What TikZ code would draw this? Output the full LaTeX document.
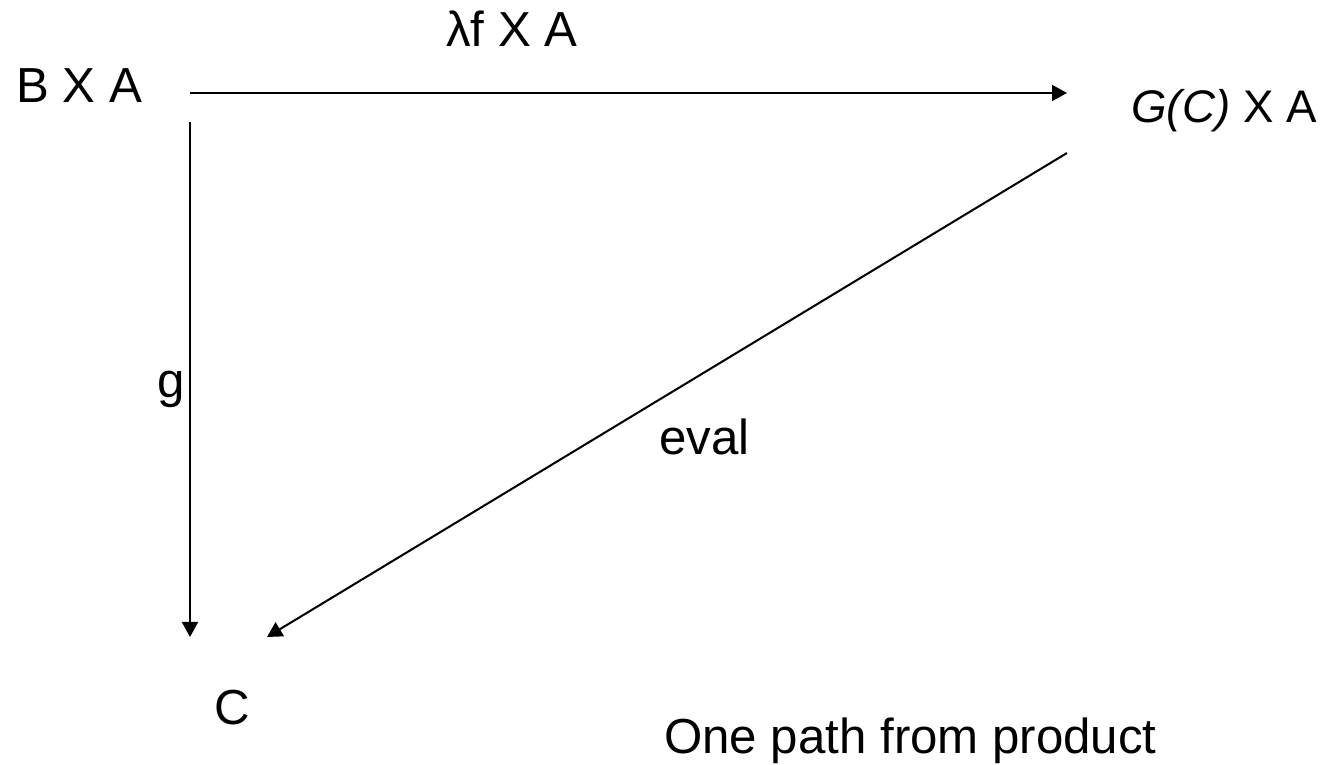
\documentclass[tikz,border=0pt]{standalone}
\usepackage{fontspec}
\setmainfont{Liberation Sans}
\usetikzlibrary{arrows.meta}
\tikzset{
  dlabel/.style={inner sep=0pt,anchor=base west,font=\fontsize{28}{34}\selectfont},
  darr/.style={-{Triangle[length=3.0mm,width=3.2mm]},line width=1.15pt,draw=black}
}
\begin{document}
\begin{tikzpicture}
  \useasboundingbox (0,0) rectangle (26.52,15.3);
  % objects
  \node[dlabel] (bxa) at (0.32,13.24) {B X A};
  \node[dlabel,font=\fontsize{26}{32}\selectfont] (gca) at (22.62,12.84) {\textit{G(C)} X A};
  \node[dlabel] (c) at (4.28,0.8) {C};
  % arrow labels
  \node[dlabel] (lamf) at (8.92,14.36) {λf X A};
  \node[dlabel] (g) at (3.14,7.34) {g};
  \node[dlabel] (eval) at (13.18,6.2) {eval};
  \node[dlabel] (note) at (13.28,0.22) {One path from product};
  % arrow ends
  \coordinate (bxa-r) at (3.8,13.44);
  \coordinate (gca-l) at (21.34,13.44);
  \coordinate (bxa-b) at (3.8,12.86);
  \coordinate (gca-b) at (21.34,12.24);
  \coordinate (c-t) at (3.8,2.56);
  \coordinate (c-r) at (5.34,2.56);
  \draw[darr] (bxa-r) -- (gca-l);
  \draw[darr] (bxa-b) -- (c-t);
  \draw[darr] (gca-b) -- (c-r);
\end{tikzpicture}
\end{document}
